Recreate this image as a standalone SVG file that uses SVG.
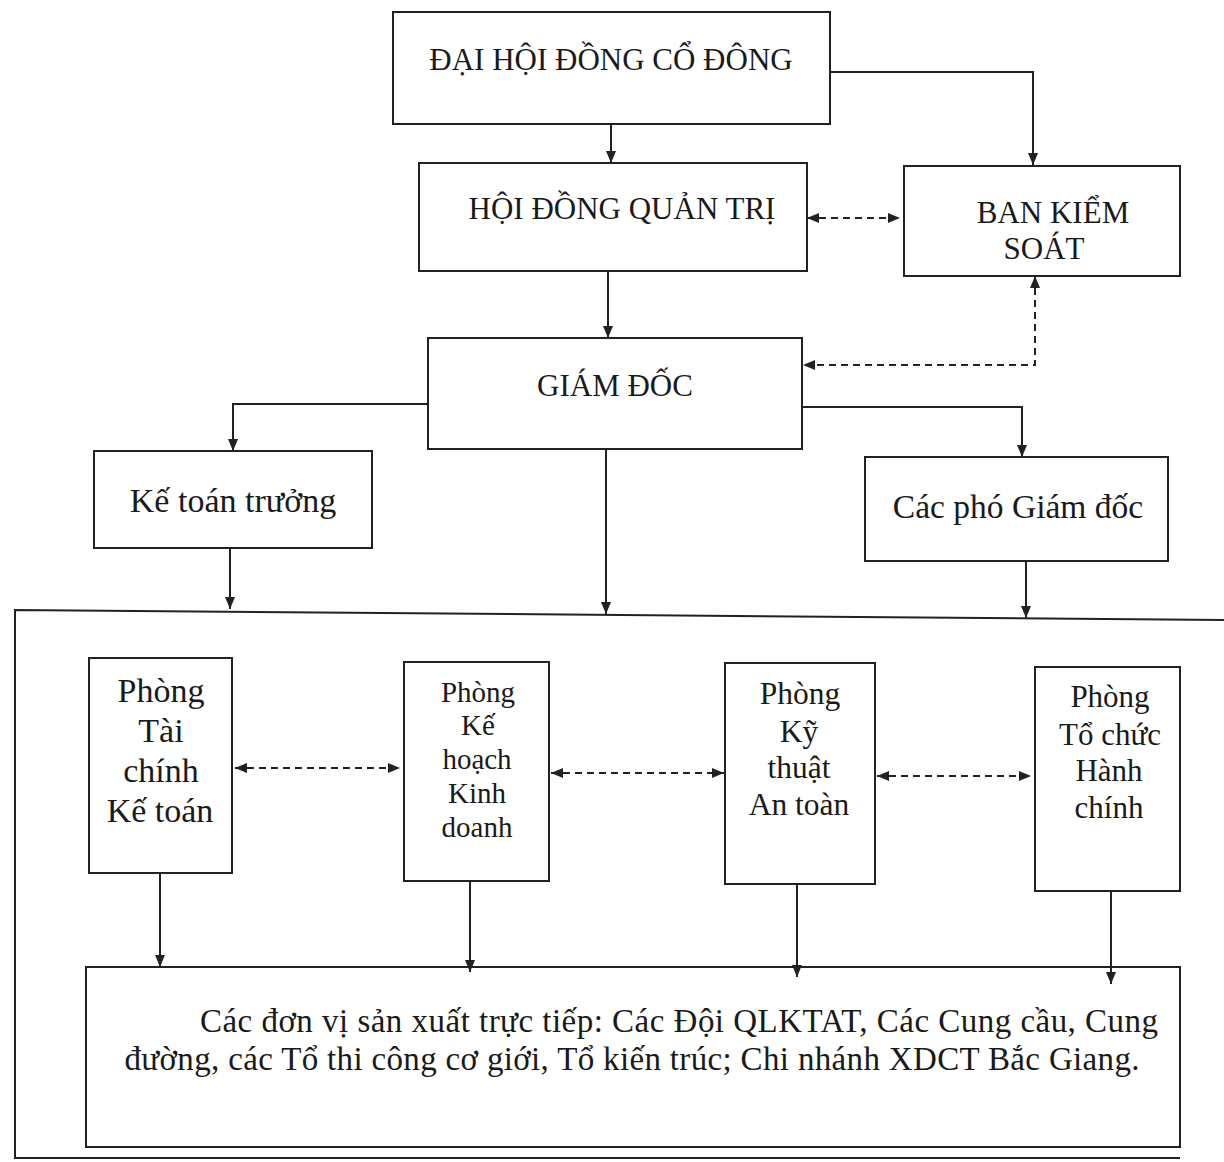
<svg xmlns="http://www.w3.org/2000/svg" width="1224" height="1162" viewBox="0 0 1224 1162">
<defs>
<marker id="ah" viewBox="0 0 12 10" refX="12" refY="5" markerWidth="12" markerHeight="10" markerUnits="userSpaceOnUse" orient="auto-start-reverse">
<path d="M0,0 L12,5 L0,10 Z" fill="#222"/>
</marker>
<style>
.box{fill:#fff;stroke:#222;stroke-width:2}
.t{font-family:"Liberation Serif","Times New Roman",serif;fill:#1a1a1a;text-anchor:middle}
.ln{fill:none;stroke:#222;stroke-width:2}
.dash{fill:none;stroke:#222;stroke-width:2;stroke-dasharray:7,5}
</style>
</defs>
<rect width="1224" height="1162" fill="#fff"/>
<g id="frame">
<polyline class="ln" points="1224,620 15,610 15,1158 1180,1158"/>
</g>
<g id="dhdcd"><rect class="box" x="393" y="12" width="437" height="112"/><text class="t" x="611" y="70" font-size="31">ĐẠI HỘI ĐỒNG CỔ ĐÔNG</text></g>
<g id="hdqt"><rect class="box" x="419" y="163" width="388" height="108"/><text class="t" x="622" y="219" font-size="31">HỘI ĐỒNG QUẢN TRỊ</text></g>
<g id="bks"><rect class="box" x="904" y="166" width="276" height="110"/><text class="t" x="1053" y="223" font-size="31">BAN KIỂM</text><text class="t" x="1044" y="259" font-size="31">SOÁT</text></g>
<g id="gd"><rect class="box" x="428" y="338" width="374" height="111"/><text class="t" x="615" y="396" font-size="31">GIÁM ĐỐC</text></g>
<g id="ktt"><rect class="box" x="94" y="451" width="278" height="97"/><text class="t" x="233" y="512" font-size="34">Kế toán trưởng</text></g>
<g id="pgd"><rect class="box" x="865" y="457" width="303" height="104"/><text class="t" x="1018" y="518" font-size="33.5">Các phó Giám đốc</text></g>
<g id="ptckt"><rect class="box" x="89" y="658" width="143" height="215"/>
<text class="t" x="161" y="702" font-size="34">Phòng</text><text class="t" x="161" y="742" font-size="34">Tài</text><text class="t" x="161" y="782" font-size="34">chính</text><text class="t" x="160" y="822" font-size="34">Kế toán</text></g>
<g id="pkhkd"><rect class="box" x="404" y="662" width="145" height="219"/>
<text class="t" x="478" y="702" font-size="29">Phòng</text><text class="t" x="478" y="735" font-size="29">Kế</text><text class="t" x="477" y="769" font-size="29">hoạch</text><text class="t" x="477" y="803" font-size="29">Kinh</text><text class="t" x="477" y="837" font-size="29">doanh</text></g>
<g id="pktat"><rect class="box" x="725" y="663" width="150" height="221"/>
<text class="t" x="800" y="704" font-size="31.5">Phòng</text><text class="t" x="799" y="742" font-size="31.5">Kỹ</text><text class="t" x="799" y="778" font-size="31.5">thuật</text><text class="t" x="799" y="815" font-size="31.5">An toàn</text></g>
<g id="ptchc"><rect class="box" x="1035" y="667" width="145" height="224"/>
<text class="t" x="1110" y="707" font-size="31">Phòng</text><text class="t" x="1110" y="745" font-size="31">Tổ chức</text><text class="t" x="1109" y="781" font-size="31">Hành</text><text class="t" x="1109" y="818" font-size="31">chính</text></g>
<g id="dvsx"><rect class="box" x="86" y="967" width="1094" height="180"/>
<text class="t" x="679" y="1032" font-size="33" textLength="958" lengthAdjust="spacing">Các đơn vị sản xuất trực tiếp: Các Đội QLKTAT, Các Cung cầu, Cung</text>
<text class="t" x="632" y="1070" font-size="33" textLength="1015" lengthAdjust="spacing">đường, các Tổ thi công cơ giới, Tổ kiến trúc; Chi nhánh XDCT Bắc Giang.</text></g>
<g id="connectors">
<line class="ln" x1="611" y1="124" x2="611" y2="163" marker-end="url(#ah)"/>
<polyline class="ln" points="830,72 1033,72 1033,165" marker-end="url(#ah)"/>
<line class="dash" x1="807" y1="218" x2="900" y2="218" marker-start="url(#ah)" marker-end="url(#ah)"/>
<line class="ln" x1="608" y1="271" x2="608" y2="338" marker-end="url(#ah)"/>
<polyline class="dash" points="1035,276 1035,365 803,365" marker-start="url(#ah)" marker-end="url(#ah)"/>
<polyline class="ln" points="428,404 233,404 233,451" marker-end="url(#ah)"/>
<polyline class="ln" points="802,407 1022,407 1022,457" marker-end="url(#ah)"/>
<line class="ln" x1="230" y1="548" x2="230" y2="609" marker-end="url(#ah)"/>
<line class="ln" x1="606" y1="449" x2="606" y2="614" marker-end="url(#ah)"/>
<line class="ln" x1="1026" y1="561" x2="1026" y2="618" marker-end="url(#ah)"/>
<line class="dash" x1="235" y1="768" x2="400" y2="768" marker-start="url(#ah)" marker-end="url(#ah)"/>
<line class="dash" x1="551" y1="773" x2="724" y2="773" marker-start="url(#ah)" marker-end="url(#ah)"/>
<line class="dash" x1="877" y1="776" x2="1031" y2="776" marker-start="url(#ah)" marker-end="url(#ah)"/>
<line class="ln" x1="160" y1="873" x2="160" y2="967" marker-end="url(#ah)"/>
<line class="ln" x1="470" y1="881" x2="470" y2="972" marker-end="url(#ah)"/>
<line class="ln" x1="797" y1="884" x2="797" y2="977" marker-end="url(#ah)"/>
<line class="ln" x1="1111" y1="891" x2="1111" y2="984" marker-end="url(#ah)"/>
</g>
</svg>
